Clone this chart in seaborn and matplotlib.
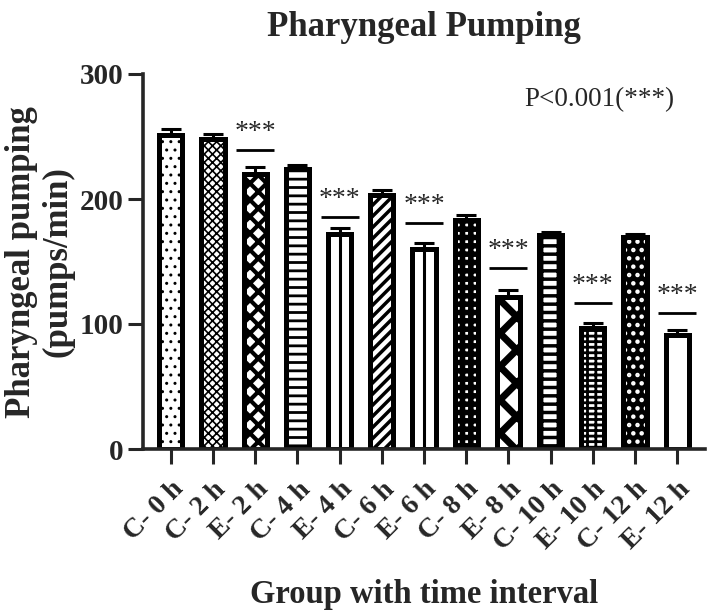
import numpy as np
import seaborn as sns
import matplotlib
matplotlib.use("Agg")
import matplotlib.pyplot as plt

# values
groups = ["C- 0 h", "C- 2 h", "E- 2 h", "C- 4 h", "E- 4 h", "C- 6 h", "E- 6 h",
          "C- 8 h", "E- 8 h", "C- 10 h", "E- 10 h", "C- 12 h", "E- 12 h"]
pumping = [251, 248, 220, 224, 172, 203, 160, 183, 122, 171, 97, 170, 91]
sem = [5, 4, 6, 3, 5, 4, 5, 4, 5, 3, 4, 2, 4]

# significance bars (group, height)
sig_groups = ["E- 2 h", "E- 4 h", "E- 6 h", "E- 8 h", "E- 10 h", "E- 12 h"]
sig_level = [239, 186, 181, 145, 117, 109]

# fill pattern per bar: face colour, hatch, hatch colour, hatch width
face_colors = ["white", "white", "white", "white", "white", "white", "white",
               "white", "white", "white", "white", "black", "white"]
hatches = ["..", "xxxx", "xx", "--", "", "///", "", "++", "x", "--|", "---||", "..", ""]
hatch_colors = ["black"] * 11 + ["white", "black"]
hatch_widths = [1.0, 1.2, 3.0, 2.0, 1.0, 2.5, 1.0, 4.0, 5.0, 2.5, 2.0, 2.0, 1.0]
center_line = ["E- 4 h", "E- 6 h"]

sns.set_style("ticks")
plt.rcParams["font.family"] = ["Liberation Serif", "DejaVu Serif"]
plt.rcParams["axes.linewidth"] = 2.6

fig = plt.figure(figsize=(7.08, 6.16), dpi=100)
ax = fig.add_axes([143 / 708, 1 - 449 / 616, 562 / 708, 375 / 616])

bar_w = 0.55
# patterned fill first
sns.barplot(x=groups, y=pumping, hue=groups, palette=face_colors, saturation=1,
            width=bar_w, linewidth=0, errorbar=None, legend=False, ax=ax)
for p, h, hc, hw in zip(ax.patches, hatches, hatch_colors, hatch_widths):
    p.set_hatch(h)
    p.set_edgecolor(hc)
    p.set_linewidth(0)
    if hasattr(p, "set_hatch_linewidth"):
        p.set_hatch_linewidth(hw)

# thin centre line inside some of the open bars
for p, g in zip(list(ax.patches), groups):
    if g in center_line:
        cx = p.get_x() + p.get_width() / 2
        ax.vlines(cx, 0, p.get_height(), color="black", linewidth=2.2, zorder=2)

# thick black outlines on top
sns.barplot(x=groups, y=pumping, color="black", fill=False, width=bar_w,
            linewidth=3.6, errorbar=None, ax=ax)

xpos = np.arange(len(groups))
ax.errorbar(xpos, pumping, yerr=[np.zeros(len(sem)), sem], fmt="none",
            ecolor="black", elinewidth=2.2, capsize=7, capthick=2.2, zorder=1.5)

# significance markers
for g, lvl in zip(sig_groups, sig_level):
    i = groups.index(g)
    ax.hlines(lvl, i - 0.45, i + 0.45, color="black", linewidth=2)
    ax.text(i, lvl + 4, "***", ha="center", va="bottom", fontsize=20)

ax.set_xlim(-0.66, len(groups) - 0.34)
ax.set_ylim(0, 300)
ax.set_yticks([0, 100, 200, 300])
sns.despine(ax=ax)
ax.tick_params(axis="both", width=2.2, length=11, direction="out")
ax.tick_params(axis="y", labelsize=21, pad=3)
for lab in ax.get_yticklabels():
    lab.set_fontweight("bold")
ax.set_xticks(xpos)
ax.set_xticklabels(groups, rotation=45, ha="right", rotation_mode="anchor",
                   fontsize=20, fontweight="bold")
ax.tick_params(axis="x", pad=9)
ax.set_xlabel("")
ax.set_ylabel("")

fig.text(424 / 708, 1 - 28 / 616, "Pharyngeal Pumping", ha="center", va="center",
         fontsize=25, fontweight="bold")
fig.text(40 / 708, 1 - 262 / 616, "Pharyngeal pumping\n(pumps/min)", rotation=90,
         ha="center", va="center", multialignment="center", fontsize=25,
         fontweight="bold", linespacing=1.15)
fig.text(424 / 708, 1 - 595 / 616, "Group with time interval", ha="center",
         va="center", fontsize=23.5, fontweight="bold")
fig.text(599 / 708, 1 - 100 / 616, "P<0.001(***)", ha="center", va="center",
         fontsize=19.5)

fig.savefig("out.png", dpi=100)
